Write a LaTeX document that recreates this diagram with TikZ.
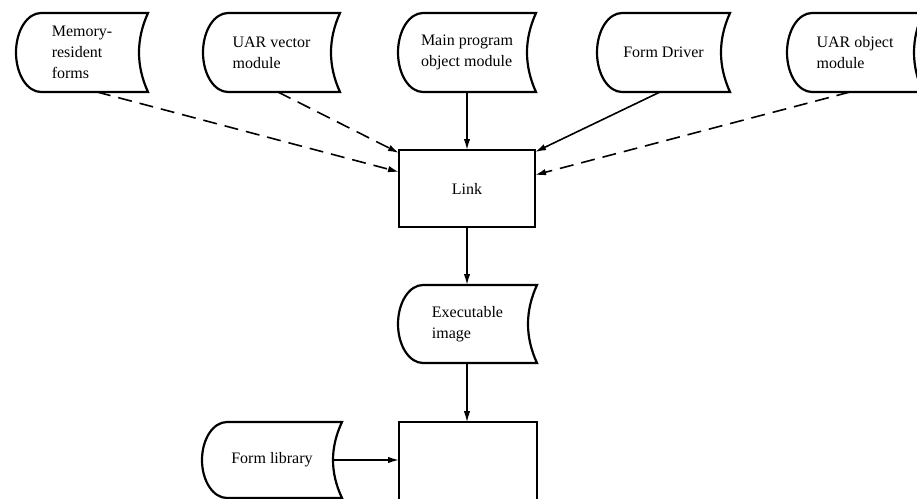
\documentclass[tikz,border=0pt]{standalone}
\usepackage{fontspec}
\setmainfont{Liberation Serif}
\usetikzlibrary{arrows.meta}
\makeatletter
\newdimen\sdrx \sdrx=25pt
\newdimen\sdd \sdd=9pt
\newdimen\sdxa \newdimen\sdya \newdimen\sdxb \newdimen\sdyb
\newdimen\sdh \newdimen\sdk
\pgfdeclareshape{storeddata}{
  \inheritsavedanchors[from=rectangle]
  \inheritanchorborder[from=rectangle]
  \inheritanchor[from=rectangle]{center}
  \inheritanchor[from=rectangle]{text}
  \inheritanchor[from=rectangle]{base}
  \inheritanchor[from=rectangle]{mid}
  \inheritanchor[from=rectangle]{north}
  \inheritanchor[from=rectangle]{south}
  \inheritanchor[from=rectangle]{east}
  \inheritanchor[from=rectangle]{west}
  \inheritanchor[from=rectangle]{north east}
  \inheritanchor[from=rectangle]{north west}
  \inheritanchor[from=rectangle]{south east}
  \inheritanchor[from=rectangle]{south west}
  \backgroundpath{
    \southwest \global\sdxa=\pgf@x \global\sdya=\pgf@y
    \northeast \global\sdxb=\pgf@x \global\sdyb=\pgf@y
    \global\sdh=\dimexpr(\sdyb-\sdya)/2\relax
    \global\sdk=\dimexpr\sdd*4/3\relax
    \pgfpathmoveto{\pgfqpoint{\dimexpr\sdxa+\sdrx\relax}{\sdyb}}
    \pgfpathlineto{\pgfqpoint{\sdxb}{\sdyb}}
    \pgfpathcurveto{\pgfqpoint{\dimexpr\sdxb-\sdk\relax}{\dimexpr\sdyb-\sdh*2/3\relax}}
                   {\pgfqpoint{\dimexpr\sdxb-\sdk\relax}{\dimexpr\sdya+\sdh*2/3\relax}}
                   {\pgfqpoint{\sdxb}{\sdya}}
    \pgfpathlineto{\pgfqpoint{\dimexpr\sdxa+\sdrx\relax}{\sdya}}
    \pgfpatharc{270}{90}{\the\sdrx\space and \the\sdh}
    \pgfpathclose
  }
}
\makeatother
\tikzset{
  sd/.style={shape=storeddata, draw, line width=2.2pt, minimum height=79pt,
    inner sep=0pt, outer sep=0pt, align=left,
    font=\fontsize{16}{21}\selectfont},
  procbox/.style={rectangle, draw, line width=2.2pt, inner sep=0pt, outer sep=0pt,
    font=\fontsize{16}{21}\selectfont},
  conn/.style={line width=1.6pt, -{Latex[length=11pt,width=6.5pt]}},
  dsh/.style={conn, dash pattern=on 14pt off 8pt},
  thinconn/.style={line width=1.1pt, -{Latex[length=11pt,width=6.5pt]}}
}
\begin{document}
\begin{tikzpicture}[x=1pt,y=-1pt]
\useasboundingbox[fill=white] (0,0) rectangle (917,498);
\node[sd, minimum width=132pt] (mem) at (82,52.5) {Memory-\\resident\\forms};
\node[sd, minimum width=137pt] (uarv) at (271.5,52.5) {UAR vector\\module};
\node[sd, minimum width=138pt] (main) at (467,52.5) {Main program\\object module};
\node[sd, minimum width=133pt] (fd) at (663.5,52.5) {Form Driver};
\node[sd, minimum width=136pt] (uaro) at (855,52.5) {UAR object\\module};
\node[procbox, minimum width=136pt, minimum height=77pt] (link) at (467,188.5) {Link};
\node[sd, minimum width=139pt, minimum height=78pt] (exe) at (467.5,324) {Executable\\image};
\node[sd, minimum width=140pt, minimum height=76pt] (flib) at (272,460) {Form library};
\node[procbox, minimum width=138pt, minimum height=100pt] (box) at (468,472) {};
\draw[dsh] ([xshift=15pt]mem.south) -- ([yshift=-22pt]link.north west);
\draw[dsh] ([xshift=6.5pt]uarv.south) -- ([yshift=-3pt]link.north west);
\draw[conn] (main.south) -- (link.north);
\draw[conn] ([xshift=-3.5pt]fd.south) -- ([yshift=-2pt]link.north east);
\draw[dsh] ([xshift=-5pt]uaro.south) -- ([yshift=-25pt]link.north east);
\draw[conn] (link.south) -- (exe.north -| link.south);
\draw[thinconn] (exe.south -| link.south) -- (box.north -| link.south);
\draw[conn] ([xshift=-9pt]flib.east) -- (flib.east -| box.west);
\end{tikzpicture}
\end{document}
